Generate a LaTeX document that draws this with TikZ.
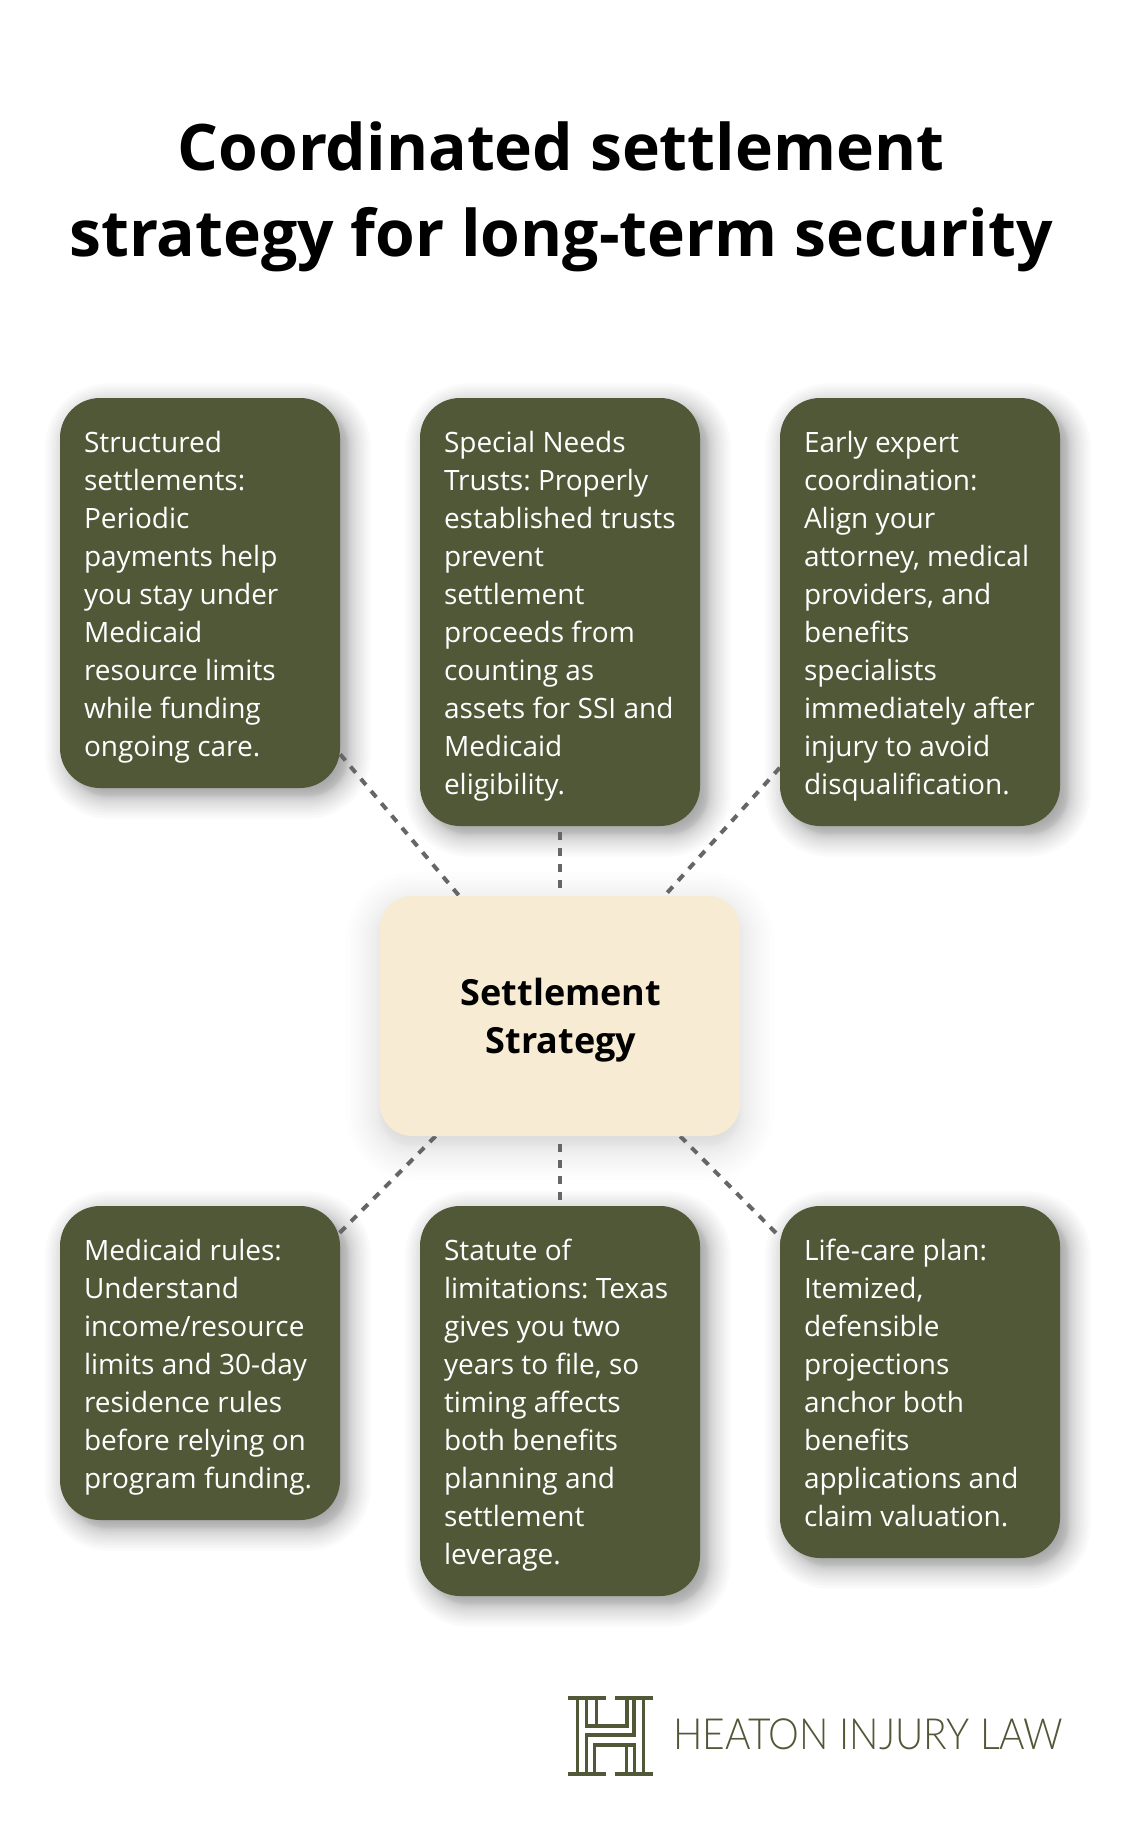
\documentclass[tikz,border=0pt]{standalone}
\usepackage{fontspec}
\setmainfont{Open Sans}
\newfontfamily\logofont{Lato Light}
\definecolor{olive}{HTML}{505838}
\definecolor{cream}{HTML}{F7ECD3}
\definecolor{dashgray}{HTML}{666666}
\pgfdeclarelayer{paperlayer}
\pgfdeclarelayer{shadowlayer}
\pgfdeclarelayer{linelayer}
\pgfsetlayers{paperlayer,shadowlayer,linelayer,main}
\newcommand\cs{\rule[-8pt]{0pt}{38pt}}
\newcommand\softsh[9]{% x0 y0 x1 y1 r dx dy blur opacity
  \begin{pgfonlayer}{shadowlayer}
  \pgfmathsetmacro\layalpha{1-(1-#9)^(1/24)}
  \foreach \i in {1,...,24}{
    \pgfmathsetmacro\uu{1-2*(\i-0.5)/24}
    \pgfmathsetmacro\ee{#8*\uu*sqrt(abs(\uu))}
    \pgfmathsetmacro\rr{max(#5+\ee,1)}
    \fill[black,fill opacity=\layalpha,rounded corners=\rr pt]
      ({#1+#6-\ee},{#2+#7-\ee}) rectangle ({#3+#6+\ee},{#4+#7+\ee});
  }
  \end{pgfonlayer}}
\tikzset{
  card/.style={rectangle,rounded corners=40pt,fill=olive,text=white,inner sep=0pt,
    minimum width=280pt,text width=280pt,align=left,
    font=\fontsize{28}{38}\selectfont,
    execute at begin node={\leftskip=24pt\relax\frenchspacing\spaceskip=7.3pt\relax}},
  hub/.style={rectangle,rounded corners=32pt,fill=cream,text=black,inner sep=0pt,
    minimum width=360pt,minimum height=240pt,align=center,
    font=\fontsize{36}{48}\selectfont\bfseries},
  titletext/.style={inner sep=0pt,align=center,text=black,
    font=\fontsize{64.2}{86}\selectfont\bfseries},
  logotext/.style={inner sep=0pt,anchor=base west,text=olive,
    font=\fontsize{43}{43}\selectfont\logofont},
  link/.style={draw=dashgray,line width=4pt,dash pattern=on 8pt off 8pt},
  logoline/.style={draw=olive,line width=3.5pt},
  logobar/.style={fill=olive}
}
\begin{document}
\begin{tikzpicture}[x=1pt,y=-1pt]
\useasboundingbox (0,0) rectangle (1120,1836);
\begin{pgfonlayer}{paperlayer}
\fill[white] (0,0) rectangle (1120,1836);
\end{pgfonlayer}

\node[titletext] (title) at (561,196) {\rule[-14pt]{0pt}{64pt}Coordinated settlement\\strategy for long-term security\rule[-14pt]{0pt}{64pt}};

\node[hub] (hub) at (560,1016) {\rule[-6pt]{0pt}{42pt}\hspace*{2pt}Settlement\\\hspace*{2pt}Strategy\rule[-6pt]{0pt}{42pt}};

\node[card,minimum height=390pt] (c1) at (200,593) {\cs Structured\\settlements:\\Periodic\\payments help\\you stay under\\Medicaid\\resource limits\\while funding\\ongoing care.\cs};
\node[card,minimum height=428pt] (c2) at (560,612) {\cs Special Needs\\Trusts: Properly\\established trusts\\prevent\\settlement\\proceeds from\\counting as\\assets for SSI and\\Medicaid\\eligibility.\cs};
\node[card,minimum height=428pt] (c3) at (920,612) {\cs Early expert\\coordination:\\Align your\\attorney, medical\\providers, and\\benefits\\specialists\\immediately after\\injury to avoid\\disqualification.\cs};
\node[card,minimum height=314pt] (c4) at (200,1363) {\cs Medicaid rules:\\Understand\\income/resource\\limits and 30-day\\residence rules\\before relying on\\program funding.\cs};
\node[card,minimum height=390pt] (c5) at (560,1401) {\cs Statute of\\limitations: Texas\\gives you two\\years to file, so\\timing affects\\both benefits\\planning and\\settlement\\leverage.\cs};
\node[card,minimum height=352pt] (c6) at (920,1382) {\cs Life-care plan:\\Itemized,\\defensible\\projections\\anchor both\\benefits\\applications and\\claim valuation.\cs};

\softsh{60}{398}{340}{788}{40}{8}{8}{24}{0.4}
\softsh{420}{398}{700}{826}{40}{8}{8}{24}{0.4}
\softsh{780}{398}{1060}{826}{40}{8}{8}{24}{0.4}
\softsh{60}{1206}{340}{1520}{40}{8}{8}{24}{0.4}
\softsh{420}{1206}{700}{1596}{40}{8}{8}{24}{0.4}
\softsh{780}{1206}{1060}{1558}{40}{8}{8}{24}{0.4}
\softsh{380}{896}{740}{1136}{32}{0}{10}{36}{0.2}

\begin{pgfonlayer}{linelayer}
\draw[link] (c1.-49.2) -- (hub.130.95);
\draw[link,shorten <=6pt,shorten >=8pt] (c2.south) -- (hub.north);
\draw[link] (c3.228.5) -- (hub.49.05);
\draw[link,shorten >=-6pt] (hub.224.06) -- (c4.43.7);
\draw[link,shorten <=8pt,shorten >=6pt] (hub.south) -- (c5.north);
\draw[link,shorten >=-6pt] (hub.-45.7) -- (c6.134.2);
\end{pgfonlayer}

% logo mark
\fill[logobar] (568,1696) rectangle (606,1699.7);
\fill[logobar] (615,1696) rectangle (653.3,1699.7);
\fill[logobar] (568,1772) rectangle (606,1775.7);
\fill[logobar] (615,1772) rectangle (653.3,1775.7);
\draw[logoline] (577.3,1696) -- (577.3,1775.7);
\draw[logoline] (643.5,1696) -- (643.5,1775.7);
\draw[logoline] (586.7,1698) -- (586.7,1726) -- (627,1726) -- (627,1698);
\draw[logoline] (596.7,1698) -- (596.7,1726);
\draw[logoline] (634,1698) -- (634,1735) -- (586.3,1735) -- (586.3,1774);
\draw[logoline] (634.5,1774) -- (634.5,1745) -- (594.7,1745) -- (594.7,1774);
\draw[logoline] (626.5,1774) -- (626.5,1745);
\node[logotext] (logo) at (673,1749) {\scalebox{0.905}[1]{HEATON INJURY LAW}};
\end{tikzpicture}
\end{document}
